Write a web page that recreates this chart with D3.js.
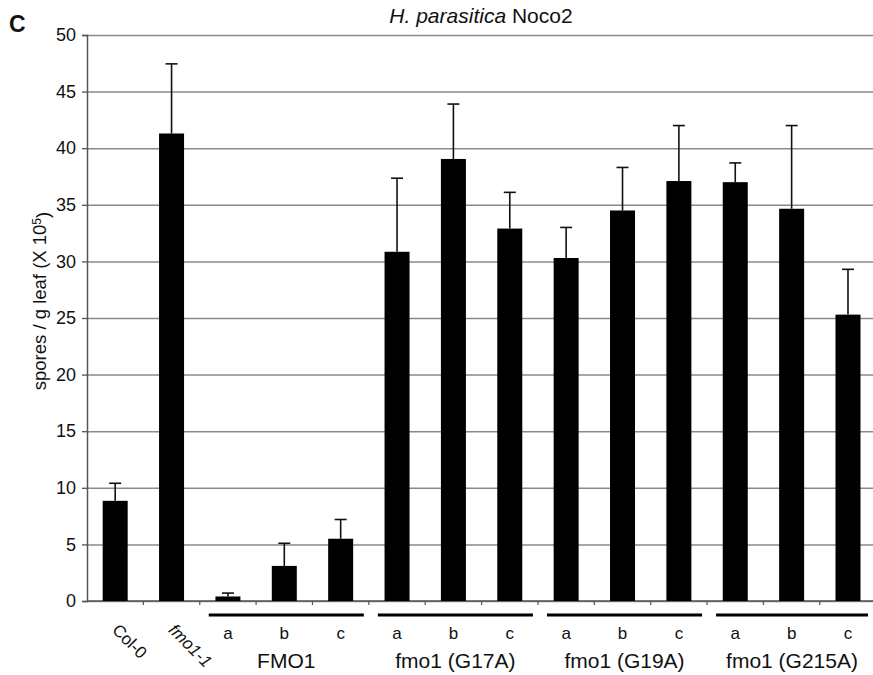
<!DOCTYPE html>
<meta charset="utf-8">
<html>
<head><title>H. parasitica Noco2 spores</title>
<script src="https://cdn.jsdelivr.net/npm/d3@7"></script>
<style>
    body { margin: 0; background: #fff; }
    text { font-family: "Liberation Sans", Arial, sans-serif; fill: #111; }
    .grid line { stroke: #8a8a8a; stroke-width: 1.5; }
    .grid path { display: none; }
    .bar { fill: #000; }
    .err { stroke: #111; stroke-width: 1.6; }
</style>
</head>
<body>
<script>
// categories, left to right
var categories = ["Col-0", "fmo1-1",
    "FMO1 a", "FMO1 b", "FMO1 c",
    "G17A a", "G17A b", "G17A c",
    "G19A a", "G19A b", "G19A c",
    "G215A a", "G215A b", "G215A c"];
var tickLabels = ["Col-0", "fmo1-1", "a", "b", "c", "a", "b", "c", "a", "b", "c", "a", "b", "c"];
// mean spores / g leaf (x 10^5)
var means = [8.85, 41.3, 0.4, 3.1, 5.5, 30.85, 39.05, 32.9, 30.3, 34.5, 37.1, 37.0, 34.65, 25.3];
// top of each error bar
var errTops = [10.4, 47.45, 0.7, 5.1, 7.2, 37.35, 43.9, 36.1, 33.0, 38.3, 42.0, 38.7, 42.0, 29.3];
// grouped lines under the x axis
var groupNames = ["FMO1", "fmo1 (G17A)", "fmo1 (G19A)", "fmo1 (G215A)"];
var groupFirst = ["FMO1 a", "G17A a", "G19A a", "G215A a"];
var groupLast = ["FMO1 c", "G17A c", "G19A c", "G215A c"];
var yTicks = [0, 5, 10, 15, 20, 25, 30, 35, 40, 45, 50];

var W = 873, H = 675;
var plotLeft = 87, plotTop = 35, plotBottom = 601;
var step = 56.37;

var svg = d3.select("body").append("svg")
    .attr("width", W)
    .attr("height", H);

var x = d3.scaleBand()
    .domain(categories)
    .range([plotLeft, plotLeft + step * categories.length])
    .padding(0);
var y = d3.scaleLinear()
    .domain([0, 50])
    .range([plotBottom, plotTop]);

// horizontal grid lines
svg.append("g")
    .attr("class", "grid")
    .attr("transform", "translate(" + plotLeft + ",0)")
    .call(d3.axisRight(y).tickValues(yTicks).tickSize(W - plotLeft).tickFormat(""));

var yAxis = svg.append("g")
    .attr("transform", "translate(" + plotLeft + ",0)")
    .call(d3.axisLeft(y).tickValues(yTicks).tickSize(5).tickPadding(6));
yAxis.select(".domain").attr("stroke", "#555").attr("stroke-width", 1.5);
yAxis.selectAll(".tick line").attr("stroke", "#555").attr("stroke-width", 1.3);
yAxis.selectAll(".tick text")
    .style("font-size", "18px")
    .attr("fill", "#111");

// x axis baseline and boundary ticks
svg.append("line")
    .attr("x1", plotLeft).attr("x2", W)
    .attr("y1", y(0)).attr("y2", y(0))
    .attr("stroke", "#555").attr("stroke-width", 1.5);
svg.selectAll(".xtick")
    .data(categories)
    .enter().append("line")
    .attr("class", "xtick")
    .attr("x1", function(d) { return x(d) + x.bandwidth(); })
    .attr("x2", function(d) { return x(d) + x.bandwidth(); })
    .attr("y1", y(0)).attr("y2", y(0) + 4)
    .attr("stroke", "#555").attr("stroke-width", 1.2);

var barW = 25;
svg.selectAll(".bar")
    .data(categories)
    .enter().append("rect")
    .attr("class", "bar")
    .attr("x", function(d) { return x(d) + x.bandwidth() / 2 - barW / 2; })
    .attr("y", function(d, i) { return y(means[i]); })
    .attr("width", barW)
    .attr("height", function(d, i) { return y(0) - y(means[i]); });

// upper error bars
var err = svg.selectAll(".errg")
    .data(categories)
    .enter().append("g");
err.append("line")
    .attr("class", "err")
    .attr("x1", function(d) { return x(d) + x.bandwidth() / 2; })
    .attr("x2", function(d) { return x(d) + x.bandwidth() / 2; })
    .attr("y1", function(d, i) { return y(means[i]); })
    .attr("y2", function(d, i) { return y(errTops[i]); });
err.append("line")
    .attr("class", "err")
    .attr("x1", function(d) { return x(d) + x.bandwidth() / 2 - 6; })
    .attr("x2", function(d) { return x(d) + x.bandwidth() / 2 + 6; })
    .attr("y1", function(d, i) { return y(errTops[i]); })
    .attr("y2", function(d, i) { return y(errTops[i]); })
    .attr("stroke-width", 2.2);

// rotated labels for the two controls, small a/b/c labels for the rest
categories.forEach(function(d, i) {
    var cx = x(d) + x.bandwidth() / 2;
    if (i < 2) {
        svg.append("text")
            .attr("transform", "translate(" + (cx - 4) + "," + (y(0) + 30) + ") rotate(45)")
            .style("font-size", "17px")
            .style("font-style", i == 1 ? "italic" : "normal")
            .text(tickLabels[i]);
    } else {
        svg.append("text")
            .attr("x", cx)
            .attr("y", 639)
            .attr("text-anchor", "middle")
            .style("font-size", "17px")
            .text(tickLabels[i]);
    }
});

// group underlines and names
groupNames.forEach(function(g, i) {
    var x1 = x(groupFirst[i]) + 9;
    var x2 = Math.min(x(groupLast[i]) + x.bandwidth() - 5, W - 5);
    svg.append("line")
        .attr("x1", x1).attr("x2", x2)
        .attr("y1", 615).attr("y2", 615)
        .attr("stroke", "#000").attr("stroke-width", 3);
    svg.append("text")
        .attr("x", (x1 + x2) / 2)
        .attr("y", 668)
        .attr("text-anchor", "middle")
        .style("font-size", "21px")
        .text(g);
});

// y axis title
var yt = svg.append("text")
    .attr("transform", "translate(46," + 301 + ") rotate(-90)")
    .attr("text-anchor", "middle")
    .style("font-size", "18.5px");
yt.append("tspan").text("spores / g leaf (X 10");
yt.append("tspan").attr("dy", "-0.45em").style("font-size", "12px").text("5");
yt.append("tspan").attr("dy", "0.45em").text(")");

// chart title
var tt = svg.append("text")
    .attr("x", 481)
    .attr("y", 23)
    .attr("text-anchor", "middle")
    .style("font-size", "21px");
tt.append("tspan").style("font-style", "italic").text("H. parasitica");
tt.append("tspan").text(" Noco2");

// panel letter
svg.append("text")
    .attr("x", 9)
    .attr("y", 32)
    .style("font-size", "23px")
    .style("font-weight", "bold")
    .text("C");
</script>
</body>
</html>
